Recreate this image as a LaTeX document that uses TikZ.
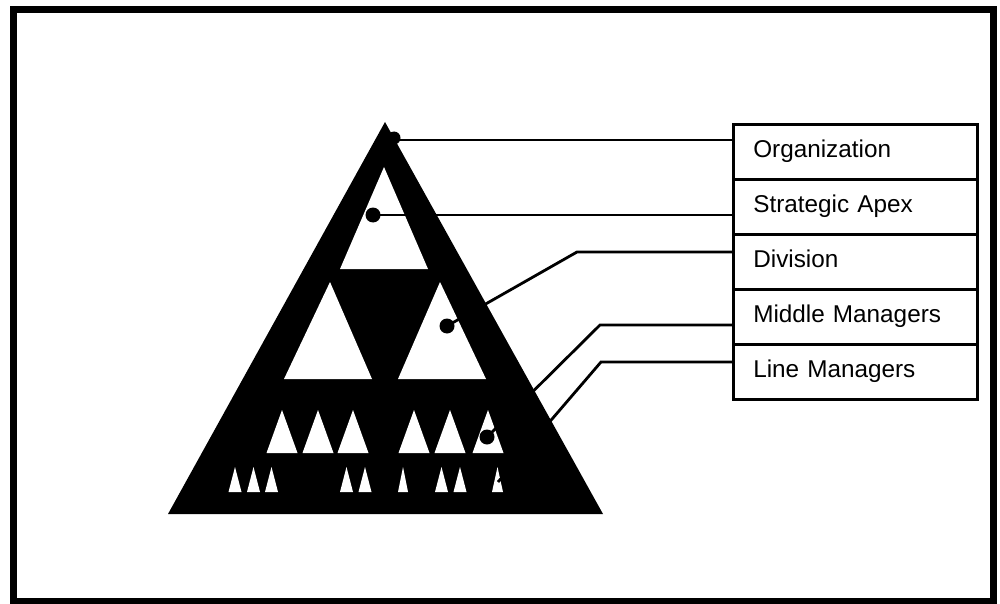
\documentclass[tikz,border=0pt]{standalone}
\usepackage{fontspec}
\newfontfamily\labelfont{Liberation Sans}
\begin{document}
\begin{tikzpicture}[x=1pt,y=-1pt,
  hole/.style={fill=white,draw=none},
  pin/.style={circle,fill=black,inner sep=0pt,minimum size=15pt},
  conn/.style={draw=black,line width=2.8pt,line join=miter},
  lbox/.style={draw=black,line width=2.6pt,fill=white,anchor=north west,
    minimum width=244pt,minimum height=55pt,inner xsep=20pt,
    text width=204pt,align=left,text height=17pt,text depth=5pt,
    font=\labelfont\fontsize{24.3}{28}\selectfont}]
\useasboundingbox (0,0) rectangle (1000,604);
\fill[white] (0,0) rectangle (1000,604);
% outer frame
\draw[line width=7pt] (13.5,10) rectangle (993,601.5);

% the pyramid
\fill[black] (385,122) -- (603,514) -- (168,514) -- cycle;
% top level
\fill[hole] (384,167) -- (428,269) -- (340,269) -- cycle;
% second level
\fill[hole] (330,282) -- (372,379) -- (284,379) -- cycle;
\fill[hole] (440,282) -- (486,379) -- (398,379) -- cycle;
% third level
\foreach \cx in {282,318,353,414,450,488}
  \fill[hole] (\cx,410) -- (\cx+15.5,453) -- (\cx-15.5,453) -- cycle;
% fourth level
\foreach \cx/\hw in {235/6.5,253.5/6.5,271.5/6.5,346.5/6.5,365/6.5,403/5,441.5/6.5,460/6.5,497.5/5.5}
  \fill[hole] (\cx,467) -- (\cx+\hw,492) -- (\cx-\hw,492) -- cycle;

% pins
\node[pin,minimum size=13pt] (pOrg) at (394,138) {};
\node[pin] (pApex) at (373,215) {};
\node[pin] (pDiv) at (447,326) {};
\node[pin] (pMid) at (487,437) {};
\coordinate (pLine) at (498,482);

% label boxes
\node[lbox] (bOrg)  at (732,123) {Organization};
\node[lbox] (bApex) at (732,178) {Strategic Apex};
\node[lbox] (bDiv)  at (732,233) {Division};
\node[lbox] (bMid)  at (732,288) {Middle Managers};
\node[lbox] (bLine) at (732,343) {Line Managers};

% bends of the connectors
\coordinate (kDiv)  at (577,252);
\coordinate (kMid)  at (600,325);
\coordinate (kLine) at (601,362);

% connectors
\draw[conn] (pOrg.center) ++(0,2) coordinate (oOrg) -- (oOrg -| bOrg.west);
\draw[conn] (pApex.center) -- (pApex.center -| bApex.west);
\draw[conn] (pDiv.center) -- (kDiv) -- (kDiv -| bDiv.west);
\draw[conn] (pMid.center) -- (kMid) -- (kMid -| bMid.west);
\draw[conn] (pLine) -- (kLine) -- (kLine -| bLine.west);
\end{tikzpicture}
\end{document}
